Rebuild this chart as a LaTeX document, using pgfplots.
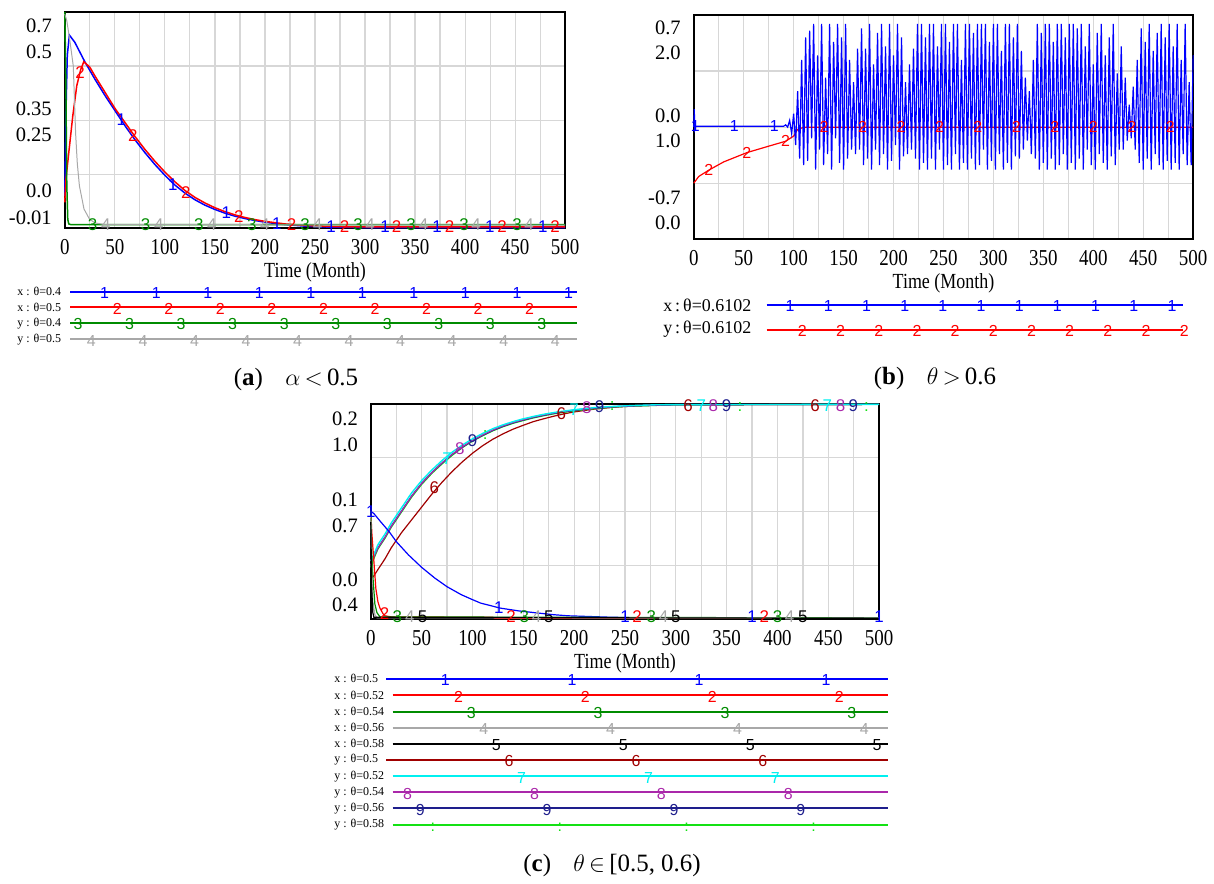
\documentclass[border=0pt]{standalone}
\usepackage{graphicx}
\usepackage{fontspec}
\setmainfont{Liberation Serif}
\newfontfamily\marksf{Liberation Sans}
\usepackage{pgfplots}
\usepackage{pgfplotstable}
\pgfplotsset{compat=1.18}

\definecolor{vblue}{RGB}{0,0,255}
\definecolor{vred}{RGB}{255,0,0}
\definecolor{vgreen}{RGB}{0,140,0}
\definecolor{vgray}{RGB}{168,168,168}
\definecolor{vdred}{RGB}{160,0,0}
\definecolor{vcyan}{RGB}{0,240,240}
\definecolor{vpurple}{RGB}{170,40,170}
\definecolor{vnavy}{RGB}{30,30,140}
\definecolor{vlime}{RGB}{20,225,20}
\definecolor{gridc}{RGB}{215,215,215}

% y curves of panel (c), in fractions of the box height
\pgfplotstableread{
t    y6    y7    y8    y9    y10
0    0.19  0.27  0.25  0.25  0.24
3    0.20  0.30  0.29  0.29  0.28
7    0.23  0.345 0.33  0.33  0.325
14   0.28  0.395 0.38  0.38  0.375
20   0.33  0.445 0.43  0.43  0.425
30   0.40  0.515 0.50  0.50  0.495
40   0.46  0.585 0.57  0.57  0.565
50   0.52  0.643 0.63  0.63  0.625
60   0.58  0.692 0.68  0.68  0.676
70   0.635 0.736 0.725 0.724 0.72
80   0.685 0.775 0.765 0.764 0.76
90   0.73  0.808 0.80  0.798 0.796
100  0.77  0.837 0.83  0.828 0.826
110  0.805 0.862 0.855 0.853 0.851
120  0.835 0.884 0.878 0.876 0.874
130  0.86  0.902 0.897 0.895 0.893
140  0.882 0.917 0.913 0.911 0.909
150  0.90  0.93  0.926 0.924 0.922
160  0.917 0.941 0.938 0.936 0.934
170  0.93  0.951 0.948 0.946 0.944
180  0.942 0.959 0.957 0.955 0.953
190  0.953 0.966 0.964 0.962 0.96
200  0.962 0.972 0.971 0.969 0.967
220  0.975 0.982 0.981 0.979 0.977
240  0.984 0.988 0.987 0.986 0.985
260  0.99  0.992 0.991 0.99  0.989
280  0.993 0.995 0.994 0.993 0.992
300  0.995 0.996 0.996 0.995 0.995
500  0.997 0.997 0.997 0.997 0.997
}\ytab

\pgfplotsset{
  /pgf/number format/assume math mode=true,
  vensim/.style={
    scale only axis, clip=false,
    xmin=0, xmax=500, ymin=0, ymax=1,
    axis line style={black, line width=1.2pt},
    xtick={0,50,...,500}, minor xtick={25,75,...,475},
    minor ytick={0.25,0.5,0.75},
    xmajorgrids=true, xminorgrids=true, yminorgrids=true,
    major grid style={gridc, line width=0.6pt},
    minor grid style={gridc, line width=0.6pt},
    major tick length=0pt, minor tick length=0pt,
    xticklabel={\scalebox{1}[1.2]{\pgfmathprintnumber{\tick}}},
    xticklabel style={font=\fontsize{9.5}{11}\selectfont, anchor=center, yshift=-9.5pt},
    yticklabel style={font=\fontsize{10.3}{12}\selectfont, anchor=east, xshift=-3pt},
    xlabel={\scalebox{1}[1.2]{Time (Month)}},
    xlabel style={font=\fontsize{9}{11}\selectfont, at={(axis description cs:0.5,0)}, anchor=center, yshift=-22pt},
  },
  keyrow/.style={
    scale only axis, clip=false, y dir=reverse,
    axis line style={draw=none}, xtick=\empty,
    major tick length=0pt,
    yticklabel style={anchor=west, inner sep=0pt},
  },
  tm/.style n args={3}{only marks, color=#1, mark=text, text mark={#2},
    text mark as node=true,
    text mark style={font=\marksf\fontsize{#3}{#3}\selectfont, inner sep=0pt, text=#1}},
}

\begin{document}
\begin{tikzpicture}
\path (0,0) rectangle (607pt,-442.5pt);

% ---------------- (a)
\begin{axis}[vensim, at={(32.5pt,-114.5pt)}, anchor=south west,
  width=251pt, height=108.5pt,
  ytick={0.049,0.172,0.433,0.553,0.817,0.937},
  yticklabels={-0.01,0.0,0.25,0.35,0.5,0.7}]
\addplot[vblue, line width=0.75pt] coordinates {
 (0,0.15) (1,0.5) (2.5,0.8) (4.6,0.893) (10,0.86) (20,0.77) (30,0.69) (40,0.615)
 (50,0.545) (60,0.475) (70,0.41) (80,0.35) (90,0.295) (100,0.245) (110,0.2)
 (120,0.163) (130,0.132) (140,0.107) (150,0.087) (160,0.07) (170,0.056) (180,0.045)
 (190,0.036) (200,0.028) (220,0.017) (240,0.01) (260,0.006) (280,0.004) (300,0.003) (500,0.003)};
\addplot[vred, line width=0.75pt] coordinates {
 (0,0.12) (1,0.22) (4,0.35) (8,0.52) (12,0.66) (16,0.735) (19,0.77) (25,0.745)
 (30,0.705) (40,0.63) (50,0.555) (60,0.49) (70,0.425) (80,0.365) (90,0.31) (100,0.26)
 (110,0.215) (120,0.175) (130,0.143) (140,0.117) (150,0.095) (160,0.077) (170,0.062)
 (180,0.05) (190,0.04) (200,0.032) (220,0.02) (240,0.013) (260,0.009) (280,0.007) (300,0.006) (500,0.006)};
\addplot[vgreen, line width=0.75pt] coordinates {
 (0,1.0) (1,0.7) (2,0.2) (3,0.04) (4,0.02) (6,0.017) (500,0.017)};
\addplot[vgray, line width=0.5pt] coordinates {
 (0,0.99) (2,0.96) (5,0.87) (8.5,0.75) (10.8,0.44) (12.5,0.3) (14.6,0.196) (19.2,0.089)
 (24.6,0.043) (30,0.025) (40,0.017) (500,0.015)};
\addplot[tm={vblue}{1}{8.5}] coordinates {
 (56.5,0.5) (108,0.2) (161.5,0.07) (212,0.021) (266,0.008) (320,0.008) (372,0.008) (424.6,0.008) (477.7,0.008)};
\addplot[tm={vred}{2}{8.5}] coordinates {
 (15.4,0.72) (68,0.43) (121,0.167) (174,0.054) (226.5,0.018) (279.6,0.01) (331.5,0.01) (384.6,0.01) (437,0.01) (490,0.01)};
\addplot[tm={vgreen}{3}{8.5}] coordinates {
 (27.7,0.017) (80.8,0.017) (134,0.017) (187,0.017) (240,0.017) (293,0.017) (346,0.017) (399,0.017) (452,0.017)};
\addplot[tm={vgray}{4}{8.5}] coordinates {
 (41,0.015) (94,0.015) (147,0.015) (200,0.015) (252.7,0.015) (305,0.015) (358.5,0.015) (411,0.015) (464,0.015)};
\end{axis}

\begin{axis}[keyrow, at={(8.5pt,-174pt)}, anchor=south west,
  width=284pt, height=32pt, xmin=17, xmax=585, ymin=284, ymax=348,
  ytick={292.7,308.3,324.3,340.5},
  yticklabels={x : θ=0.4, x : θ=0.5, y : θ=0.4, y : θ=0.5},
  yticklabel style={font=\fontsize{6}{7}\selectfont}]
\addplot[vblue, line width=1pt] coordinates {(70.7,292.7) (579,292.7)};
\addplot[vred, line width=1pt] coordinates {(70.7,308.3) (579,308.3)};
\addplot[vgreen, line width=1pt] coordinates {(70.7,324.3) (579,324.3)};
\addplot[vgray, line width=1pt] coordinates {(70.7,340.5) (579,340.5)};
\addplot[tm={vblue}{1}{8}] coordinates {(105,293.9) (156.7,293.9) (208.4,293.9) (260.1,293.9) (311.8,293.9) (363.5,293.9) (415.2,293.9) (466.9,293.9) (518.6,293.9) (570.3,293.9)};
\addplot[tm={vred}{2}{8}] coordinates {(117.7,309.5) (169.4,309.5) (221.1,309.5) (272.8,309.5) (324.5,309.5) (376.2,309.5) (427.9,309.5) (479.6,309.5) (531.3,309.5)};
\addplot[tm={vgreen}{3}{8}] coordinates {(78.3,325.5) (130,325.5) (181.7,325.5) (233.4,325.5) (285.1,325.5) (336.8,325.5) (388.5,325.5) (440.2,325.5) (491.9,325.5) (543.6,325.5)};
\addplot[tm={vgray}{4}{8}] coordinates {(91.7,341.7) (143.4,341.7) (195.1,341.7) (246.8,341.7) (298.5,341.7) (350.2,341.7) (401.9,341.7) (453.6,341.7) (505.3,341.7) (557,341.7)};
\end{axis}

% ---------------- (b)
\begin{axis}[vensim, at={(348pt,-120pt)}, anchor=south west,
  width=250.5pt, height=112.5pt,
  ytick={0.074,0.185,0.437,0.551,0.83,0.941},
  yticklabels={0.0,-0.7,1.0,0.0,2.0,0.7}]
\addplot[vred, line width=0.6pt] coordinates {
 (0,0.25) (5,0.28) (15,0.308) (30,0.345) (53,0.386) (75,0.415) (92,0.437) (100,0.46)
 (104,0.49) (110,0.499) (500,0.499)};
\addplot[tm={vred}{2}{8}] coordinates {
 (15,0.308) (53,0.386) (92,0.437) (130.5,0.499) (169,0.499) (207.5,0.499) (246,0.499)
 (284.5,0.499) (323,0.499) (361.5,0.499) (400,0.499) (438.5,0.499) (477,0.499)};
\addplot[vblue, line width=0.6pt] coordinates {
 (0,0.50) (0.5,0.58) (1,0.49) (2,0.504) (90,0.504) (92,0.51)
 (94,0.50) (96,0.53) (98,0.47) (100,0.56) (102,0.42) (104,0.66) (106,0.36) (108,0.80) (110,0.33) (112,0.90)
 (114,0.35) (116,0.93) (118,0.45) (120,0.96) (122,0.31) (124,0.82) (126,0.40) (128,0.96) (130,0.33) (132,0.72)
 (134,0.38) (136,0.96) (138,0.31) (140,0.88) (142,0.45) (144,0.96) (146,0.34) (148,0.90) (150,0.31) (152,0.96)
 (154,0.36) (156,0.80) (158,0.40) (160,0.70) (162,0.38) (164,0.85) (166,0.40) (168,0.94) (170,0.33) (172,0.85)
 (174,0.36) (176,0.96) (178,0.31) (180,0.78) (182,0.40) (184,0.92) (186,0.33) (188,0.96) (190,0.38) (192,0.86)
 (194,0.31) (196,0.96) (198,0.35) (200,0.82) (202,0.42) (204,0.96) (206,0.31) (208,0.90) (210,0.37) (212,0.70)
 (214,0.38) (216,0.78) (218,0.40) (220,0.85) (222,0.36) (224,0.96) (226,0.31) (228,0.96) (230,0.34) (232,0.90)
 (234,0.31) (236,0.96) (238,0.36) (240,0.96) (242,0.31) (244,0.86) (246,0.40) (248,0.96) (250,0.31) (252,0.96)
 (254,0.33) (256,0.88) (258,0.31) (260,0.96) (262,0.38) (264,0.96) (266,0.31) (268,0.80) (270,0.34) (272,0.96)
 (274,0.31) (276,0.96) (278,0.36) (280,0.92) (282,0.31) (284,0.96) (286,0.33) (288,0.96) (290,0.40) (292,0.96)
 (294,0.31) (296,0.88) (298,0.35) (300,0.96) (302,0.31) (304,0.96) (306,0.38) (308,0.84) (310,0.31) (312,0.96)
 (314,0.34) (316,0.96) (318,0.31) (320,0.90) (322,0.37) (324,0.96) (326,0.36) (328,0.84) (330,0.40) (332,0.72)
 (334,0.44) (336,0.66) (338,0.38) (340,0.80) (342,0.36) (344,0.96) (346,0.31) (348,0.92) (350,0.34) (352,0.96)
 (354,0.31) (356,0.96) (358,0.36) (360,0.88) (362,0.31) (364,0.96) (366,0.33) (368,0.96) (370,0.38) (372,0.90)
 (374,0.31) (376,0.96) (378,0.34) (380,0.96) (382,0.31) (384,0.94) (386,0.36) (388,0.96) (390,0.31) (392,0.86)
 (394,0.40) (396,0.96) (398,0.33) (400,0.78) (402,0.31) (404,0.92) (406,0.38) (408,0.96) (410,0.34) (412,0.82)
 (414,0.31) (416,0.90) (418,0.37) (420,0.96) (422,0.33) (424,0.74) (426,0.40) (428,0.86) (430,0.40) (432,0.72)
 (434,0.44) (436,0.60) (438,0.45) (440,0.68) (442,0.40) (444,0.80) (446,0.34) (448,0.94) (450,0.31) (452,0.88)
 (454,0.36) (456,0.96) (458,0.31) (460,0.84) (462,0.38) (464,0.92) (466,0.33) (468,0.96) (470,0.31) (472,0.90)
 (474,0.35) (476,0.96) (478,0.31) (480,0.86) (482,0.34) (484,0.96) (486,0.31) (488,0.80) (490,0.38) (492,0.96)
 (494,0.33) (496,0.70) (498,0.33) (500,0.82)};
\addplot[tm={vblue}{1}{8}] coordinates {(1.5,0.504) (40.5,0.504) (80.6,0.504)};
\end{axis}

\begin{axis}[keyrow, at={(332.5pt,-170pt)}, anchor=south west,
  width=267.5pt, height=22pt, xmin=665, xmax=1200, ymin=296, ymax=340,
  ytick={306,330.7},
  yticklabels={x\,:\,θ=0.6102, y\,:\,θ=0.6102},
  yticklabel style={font=\fontsize{9}{10}\selectfont}]
\addplot[vblue, line width=1pt] coordinates {(769,306) (1187,306)};
\addplot[vred, line width=1pt] coordinates {(769,330.7) (1187,330.7)};
\addplot[tm={vblue}{1}{8}] coordinates {(792.7,306.5) (831,306.5) (869.3,306.5) (907.6,306.5) (945.9,306.5) (984.2,306.5) (1022.5,306.5) (1060.8,306.5) (1099.1,306.5) (1137.4,306.5) (1175.7,306.5)};
\addplot[tm={vred}{2}{8}] coordinates {(805,331.7) (843.3,331.7) (881.6,331.7) (919.9,331.7) (958.2,331.7) (996.5,331.7) (1034.8,331.7) (1073.1,331.7) (1111.4,331.7) (1149.7,331.7) (1188,331.7)};
\end{axis}

% ---------------- (c)
\begin{axis}[vensim, at={(186pt,-310.5pt)}, anchor=south west,
  width=255pt, height=108pt,
  ytick={0.066,0.182,0.434,0.552,0.807,0.93},
  yticklabels={0.4,0.0,0.7,0.1,1.0,0.2}]
\addplot[vdred, line width=0.6pt] table[x=t, y=y6] {\ytab};
\addplot[vlime, line width=0.6pt] table[x=t, y=y10] {\ytab};
\addplot[vnavy, line width=0.6pt] table[x=t, y=y9] {\ytab};
\addplot[vpurple, line width=0.6pt] table[x=t, y=y8] {\ytab};
\addplot[vcyan, line width=0.7pt] table[x=t, y=y7] {\ytab};
\addplot[vblue, line width=0.6pt] coordinates {
 (0,0.5) (3,0.49) (10,0.45) (18,0.406) (25,0.36) (37,0.298) (50,0.24) (63,0.19) (75,0.15)
 (89,0.113) (100,0.09) (108,0.074) (118,0.062) (127,0.051) (145,0.038) (164,0.028)
 (180,0.02) (194,0.015) (232,0.009) (260,0.006) (500,0.005)};
\addplot[vred, line width=0.6pt] coordinates {
 (0,0.5) (1,0.4) (3,0.27) (5,0.14) (7,0.08) (9,0.05) (12,0.025) (14,0.015) (20,0.01)
 (120,0.008) (122,0.004) (500,0.004)};
\addplot[vgreen, line width=0.6pt] coordinates {
 (0,0.5) (1,0.3) (2,0.2) (4,0.07) (6,0.03) (9,0.01) (500,0.005)};
\addplot[vgray, line width=0.6pt] coordinates {
 (0,0.48) (1,0.2) (2,0.08) (4,0.02) (6,0.006) (500,0.004)};
\addplot[black, line width=0.6pt] coordinates {
 (0,0.45) (0.8,0.15) (2,0.03) (3,0.008) (500,0.003)};
\addplot[tm={vblue}{1}{8.5}] coordinates {(0,0.5) (126,0.052) (250,0.012) (375,0.012) (500,0.012)};
\addplot[tm={vred}{2}{8.5}] coordinates {(13.5,0.025) (138,0.012) (262,0.012) (387,0.012)};
\addplot[tm={vgreen}{3}{8.5}] coordinates {(26,0.012) (151,0.012) (276,0.012) (400,0.012)};
\addplot[tm={vgray}{4}{8.5}] coordinates {(38.5,0.01) (163,0.01) (288,0.01) (412,0.01)};
\addplot[tm={black}{5}{8.5}] coordinates {(51,0.01) (175,0.01) (300,0.01) (425,0.01)};
\addplot[tm={vdred}{6}{8.5}] coordinates {(62.5,0.61) (187.5,0.954) (312,0.99) (437,0.99)};
\addplot[tm={vcyan}{7}{8.5}] coordinates {(75,0.745) (200,0.972) (325,0.99) (449,0.99)};
\addplot[tm={vpurple}{8}{8.5}] coordinates {(87.5,0.79) (212.5,0.98) (337,0.99) (462,0.99)};
\addplot[tm={vnavy}{9}{8.5}] coordinates {(100,0.828) (225,0.985) (350,0.99) (474.5,0.99)};
\addplot[tm={vlime}{:}{8.5}] coordinates {(112.5,0.855) (237.5,0.987) (363,0.985) (487.5,0.985)};
\end{axis}

\begin{axis}[keyrow, at={(167.5pt,-417.5pt)}, anchor=south west,
  width=280pt, height=80.5pt, xmin=335, xmax=895, ymin=674, ymax=835,
  ytick={681,697.7,714,730,746,762.3,778.7,794.7,811,827.3},
  yticklabels={x : θ=0.5, x : θ=0.52, x : θ=0.54, x : θ=0.56, x : θ=0.58,
               y : θ=0.5, y : θ=0.52, y : θ=0.54, y : θ=0.56, y : θ=0.58},
  yticklabel style={font=\fontsize{6}{7}\selectfont}]
\addplot[vblue, line width=1pt] coordinates {(387.3,681) (891,681)};
\addplot[vred, line width=1pt] coordinates {(394,697.7) (891,697.7)};
\addplot[vgreen, line width=1pt] coordinates {(394,714) (891,714)};
\addplot[vgray, line width=1pt] coordinates {(394,730) (891,730)};
\addplot[black, line width=1pt] coordinates {(394,746) (891,746)};
\addplot[vdred, line width=1pt] coordinates {(387.3,762.3) (891,762.3)};
\addplot[vcyan, line width=1pt] coordinates {(394,778.7) (891,778.7)};
\addplot[vpurple, line width=1pt] coordinates {(394,794.7) (891,794.7)};
\addplot[vnavy, line width=1pt] coordinates {(394,811) (891,811)};
\addplot[vlime, line width=1pt] coordinates {(394,827.3) (891,827.3)};
\addplot[tm={vblue}{1}{8}] coordinates {(446.7,682.5) (574,682.5) (701.3,682.5) (828.6,682.5)};
\addplot[tm={vred}{2}{8}] coordinates {(460,699.2) (587.3,699.2) (714.6,699.2) (841.9,699.2)};
\addplot[tm={vgreen}{3}{8}] coordinates {(472.7,715.5) (600,715.5) (727.3,715.5) (854.6,715.5)};
\addplot[tm={vgray}{4}{8}] coordinates {(485.3,731.5) (612.6,731.5) (739.9,731.5) (867.2,731.5)};
\addplot[tm={black}{5}{8}] coordinates {(498,747.5) (625.3,747.5) (752.6,747.5) (879.9,747.5)};
\addplot[tm={vdred}{6}{8}] coordinates {(510.7,763.8) (638,763.8) (765.3,763.8)};
\addplot[tm={vcyan}{7}{8}] coordinates {(523.3,780.2) (650.6,780.2) (777.9,780.2)};
\addplot[tm={vpurple}{8}{8}] coordinates {(408.9,796.2) (536.2,796.2) (663.5,796.2) (790.8,796.2)};
\addplot[tm={vnavy}{9}{8}] coordinates {(421.6,812.5) (548.9,812.5) (676.2,812.5) (803.5,812.5)};
\addplot[tm={vlime}{:}{8}] coordinates {(434.3,830.3) (561.6,830.3) (688.9,830.3) (816.2,830.3)};
\end{axis}

% captions
\node[font=\fontsize{12.5}{14}\selectfont] at (148.5pt,-190.5pt) {(\textbf{a})\hspace{0.9em}$\alpha$\,$<$\,0.5};
\node[font=\fontsize{12.5}{14}\selectfont] at (469pt,-190pt) {(\textbf{b})\hspace{0.9em}$\theta$\,$>$\,0.6};
\node[font=\fontsize{12.5}{14}\selectfont] at (307pt,-434pt) {(\textbf{c})\hspace{0.9em}$\theta$\,$\in$\,[0.5, 0.6)};
\end{tikzpicture}
\end{document}
